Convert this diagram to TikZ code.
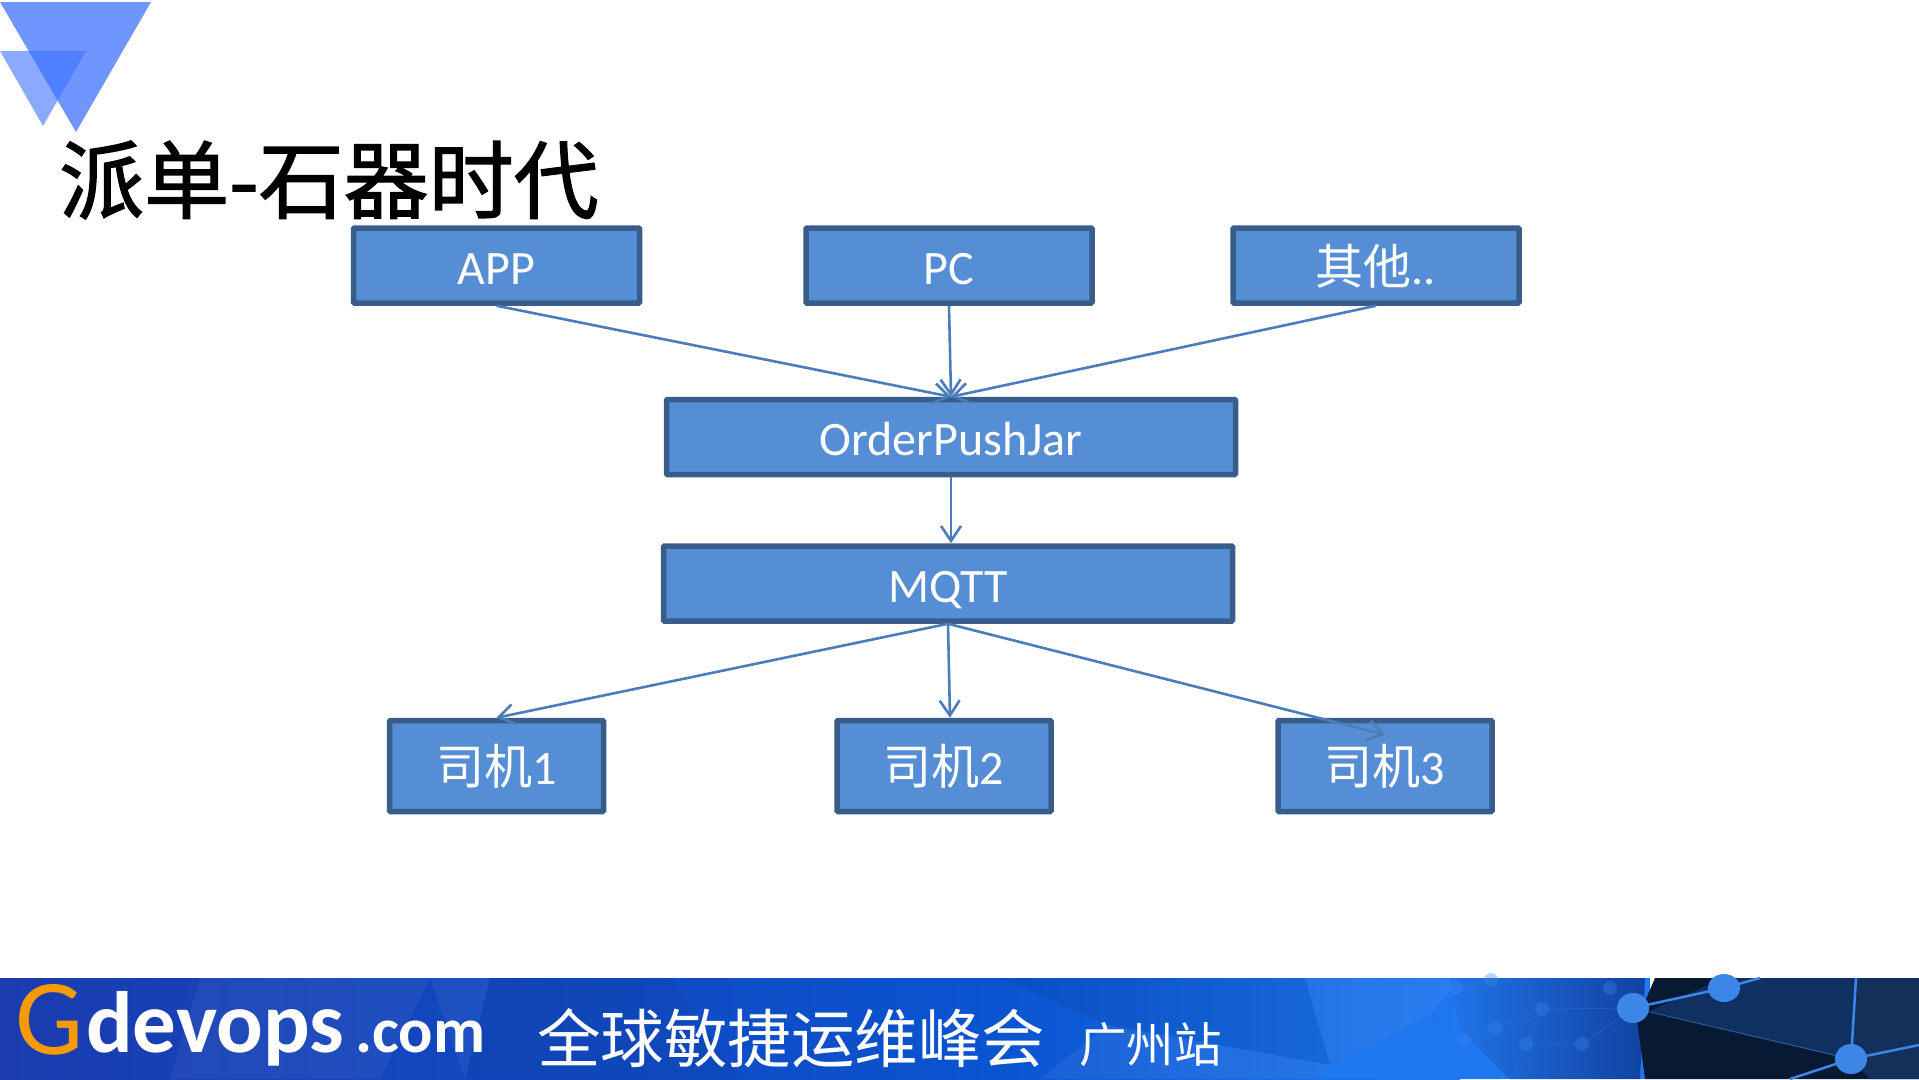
\documentclass[tikz,border=0pt]{standalone}
\usepackage{fontspec}
\setmainfont{Carlito}
\newfontfamily\cjk{Noto Sans CJK SC}
\newfontfamily\cjkheavy[FakeBold=1.5]{Noto Sans CJK SC}
\usetikzlibrary{arrows.meta}
\definecolor{boxfill}{HTML}{558ED5}
\definecolor{boxline}{HTML}{385D8A}
\definecolor{linkline}{HTML}{4A7EBB}
\definecolor{netline}{HTML}{3C86E8}
\tikzset{
  boxnode/.style={draw=boxline, fill=boxfill, line width=5.5pt, rounded corners=1pt, inner sep=0pt,
    text=white, font=\fontsize{48}{50}\selectfont, text height=45pt, text depth=8pt,
    minimum width=286pt, minimum height=75pt},
  widenode/.style={boxnode, minimum width=569pt},
  drivernode/.style={boxnode, minimum width=214pt, minimum height=91pt},
  bantext/.style={text=white, inner sep=0pt, anchor=base west},
  link/.style={draw=linkline, line width=2.6pt, ->}
}
\begin{document}
\begin{tikzpicture}[x=1pt, y=-1pt, >={Straight Barb[length=15pt,width=20pt]}]
\useasboundingbox (0,0) rectangle (1919,1079);
\fill[white] (0,0) rectangle (1919,1079);
% corner triangles
\fill[fill={rgb,255:red,111;green,150;blue,255}] (0,2) -- (151,2) -- (76,132) -- cycle;
\fill[fill={rgb,255:red,60;green,112;blue,255}, fill opacity=.6] (0,51) -- (86,51) -- (43,126) -- cycle;
\node[anchor=base west, inner sep=0pt, font=\fontsize{85}{90}\selectfont\cjkheavy] (title) at (59,212) {派单-石器时代};
% banner
\shade[left color={rgb,255:red,26;green,60;blue,174}, right color={rgb,255:red,10;green,84;blue,208}] (0,978) rectangle (1000,1079);
\shade[left color={rgb,255:red,10;green,84;blue,208}, right color={rgb,255:red,31;green,120;blue,240}] (1000,978) rectangle (1460,1079);
\fill[fill={rgb,255:red,31;green,120;blue,240}] (1460,978) rectangle (1650,1079);
\fill[white, fill opacity=.05] (200,978) -- (430,978) -- (380,1079) -- (170,1079) -- cycle;
\fill[white, fill opacity=.05] (430,978) -- (490,978) -- (465,1079) -- cycle;
\fill[black, fill opacity=.05] (490,978) -- (670,978) -- (740,1079) -- (465,1079) -- cycle;
\fill[white, fill opacity=.06] (1040,1079) -- (1108,1025) -- (1330,1065) -- (1320,1079) -- cycle;
\fill[black, fill opacity=.06] (1000,978) -- (1305,978) -- (1330,1065) -- (1108,1025) -- cycle;
\fill[white, fill opacity=.05] (1305,978) -- (1460,978) -- (1430,1015) -- (1330,1065) -- cycle;
\fill[fill={rgb,255:red,31;green,120;blue,240}] (1330,1065) -- (1430,1015) -- (1500,1079) -- (1320,1079) -- cycle;
\shade[left color={rgb,255:red,31;green,116;blue,232}, right color={rgb,255:red,18;green,66;blue,160}] (1450,978) -- (1645,978) -- (1640,1079) -- (1510,1079) -- (1460,1030) -- cycle;
\fill[fill={rgb,255:red,8;green,26;blue,51}] (1655,978) -- (1919,978) -- (1919,1079) -- (1645,1079) -- (1637,1020) -- cycle;
\fill[fill={rgb,255:red,15;green,48;blue,96}] (1650,1011) -- (1724,978) -- (1856,978) -- (1851,1059) -- cycle;
\fill[fill={rgb,255:red,18;green,48;blue,90}] (1856,978) -- (1919,978) -- (1919,1079) -- (1870,1079) -- (1851,1059) -- cycle;
\draw[netline, line width=2.5pt] (1633,1008) -- (1724,988) -- (1760,978) (1856,978) -- (1851,1059) -- (1919,1045) (1851,1059) -- (1790,1079);
\draw[netline!70!black, line width=1pt] (1633,1008) -- (1851,1059);
\draw[netline, line width=1pt, opacity=.25] (1456,988) -- (1491,980) (1542,1009) -- (1495,1028) -- (1464,1040) (1542,1009) -- (1633,1008) -- (1582,1044) -- (1526,1044) -- (1542,1009) (1526,1044) -- (1510,1079);
\foreach \dotx/\doty in {1456/988, 1491/980, 1542/1009, 1495/1028, 1526/1044, 1582/1044, 1464/1040, 1610/988}
  \fill[netline, opacity=.35] (\dotx,\doty) circle (7pt);
\fill[netline] (1633,1008) ellipse (16pt and 15pt);
\fill[netline] (1724,988) ellipse (16pt and 14pt);
\fill[netline] (1851,1059) ellipse (16pt and 15pt);
\node[bantext, text={rgb,255:red,245;green,154;blue,0}, font=\fontsize{108}{115}\selectfont] (logog) at (15,1054) {G};
\node[bantext, font=\fontsize{87}{95}\selectfont\bfseries] (logodevops) at (86,1052) {devops};
\node[bantext, font=\fontsize{64}{70}\selectfont\bfseries] (logocom) at (355,1052) {.com};
\node[bantext, font=\fontsize{63.5}{70}\selectfont\cjk] (summit) at (537,1062) {全球敏捷运维峰会};
\node[bantext, font=\fontsize{47.5}{50}\selectfont\cjk] (city) at (1079,1062) {广州站};
% boxes
\node[boxnode] (app) at (496.5,265.5) {APP};
\node[boxnode, right of=app, node distance=452.5pt] (pc) {PC};
\node[boxnode, right of=pc, node distance=427pt] (other) {{\cjk 其他}..};
\node[widenode, below of=pc, node distance=171.5pt, xshift=2pt] (order) {OrderPushJar};
\node[widenode, below of=order, node distance=146.5pt, xshift=-3pt] (mqtt) {MQTT};
\node[drivernode, below of=app, node distance=500.5pt] (drva) {{\cjk 司机}1};
\node[drivernode, right of=drva, node distance=447.5pt] (drvb) {{\cjk 司机}2};
\node[drivernode, right of=drvb, node distance=441pt] (drvc) {{\cjk 司机}3};
\coordinate (drvbin) at ([xshift=6pt]drvb.north);
\coordinate (drvcin) at ([yshift=-17pt]drvc.north);
\draw[link] (app.south) -- (order.north);
\draw[link] (pc.south) -- (order.north);
\draw[link] (other.south) -- (order.north);
\draw[link] (order.south) -- (order.south |- mqtt.north);
\draw[link] (mqtt.south) -- (drva.north);
\draw[link] (mqtt.south) -- (drvbin);
\draw[link] (mqtt.south) -- (drvcin);
\end{tikzpicture}
\end{document}
